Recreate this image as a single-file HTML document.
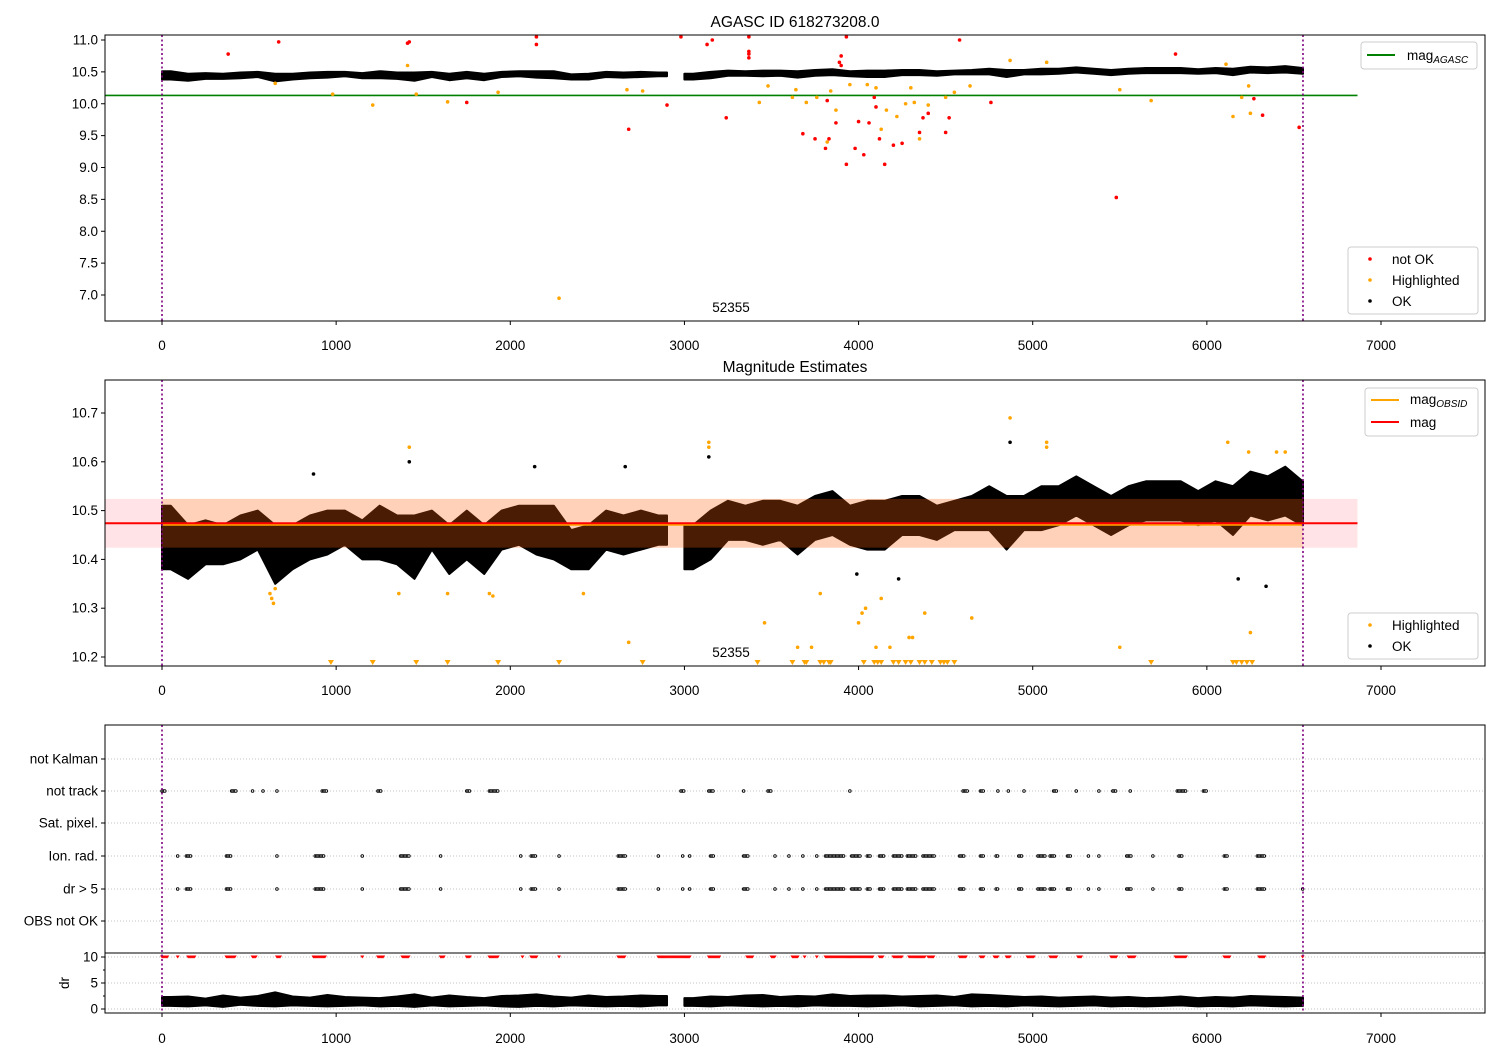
<!DOCTYPE html>
<html><head><meta charset="utf-8"><style>
body{margin:0;background:#fff}
svg{display:block;font-family:"Liberation Sans","DejaVu Sans",sans-serif}
</style></head><body>
<svg id="chart" width="1500" height="1050" viewBox="0 0 1500 1050" xmlns="http://www.w3.org/2000/svg"></svg>
<script>
// ---- data ----
const binStarts=[0,100,200,300,400,500,600,700,800,900,1000,1100,1200,1300,1400,1500,1600,1700,1800,1900,2000,2100,2200,2300,2400,2500,2600,2700,2800,2900,3000,3100,3200,3300,3400,3500,3600,3700,3800,3900,4000,4100,4200,4300,4400,4500,4600,4700,4800,4900,5000,5100,5200,5300,5400,5500,5600,5700,5800,5900,6000,6100,6200,6300,6400,6500];
const magLo=[10.38,10.36,10.39,10.39,10.40,10.42,10.35,10.38,10.40,10.41,10.43,10.40,10.40,10.39,10.36,10.42,10.37,10.40,10.37,10.42,10.43,10.41,10.40,10.38,10.38,10.42,10.41,10.42,10.43,null,10.38,10.40,10.44,10.44,10.43,10.44,10.41,10.44,10.45,10.43,10.42,10.42,10.45,10.45,10.44,10.46,10.46,10.46,10.42,10.46,10.46,10.47,10.49,10.47,10.45,10.47,10.48,10.48,10.48,10.47,10.48,10.45,10.49,10.48,10.49,10.47];
const magHi=[10.51,10.47,10.48,10.47,10.49,10.50,10.47,10.47,10.49,10.50,10.50,10.48,10.51,10.49,10.49,10.50,10.47,10.50,10.47,10.50,10.51,10.51,10.51,10.46,10.47,10.50,10.49,10.50,10.49,null,10.47,10.50,10.52,10.51,10.52,10.52,10.51,10.53,10.54,10.51,10.52,10.52,10.53,10.53,10.51,10.52,10.53,10.55,10.53,10.53,10.55,10.55,10.57,10.55,10.53,10.55,10.56,10.56,10.56,10.54,10.56,10.55,10.58,10.57,10.59,10.56];
const drLo=[0.6,0.5,0.7,0.4,0.8,0.6,0.5,0.7,0.6,0.5,0.6,0.7,0.5,0.6,0.4,0.7,0.5,0.6,0.7,0.5,0.4,0.6,0.5,0.7,0.6,0.5,0.6,0.5,0.7,null,0.6,0.5,0.7,0.6,0.5,0.6,0.5,0.7,0.6,0.6,0.5,0.6,0.7,0.5,0.6,0.7,0.5,0.6,0.5,0.7,0.6,0.5,0.6,0.7,0.5,0.6,0.5,0.6,0.7,0.5,0.6,0.5,0.7,0.6,0.5,0.6];
const drHi=[2.3,2.4,2.0,2.6,2.2,2.5,3.2,2.4,2.2,2.7,2.3,2.2,2.1,2.4,2.8,2.2,2.6,2.3,2.1,2.5,2.6,2.8,2.4,2.2,2.6,2.3,2.4,2.6,2.5,null,2.1,2.4,2.3,2.6,2.7,2.3,2.5,2.4,2.8,2.5,2.6,2.6,2.4,2.5,2.6,2.3,2.8,2.7,2.5,2.3,2.4,2.2,2.3,2.4,2.2,2.3,2.1,2.2,2.4,2.1,2.3,2.2,2.5,2.4,2.3,2.2];
const topRedT=[380,670,1410,1420,2150,2150,2980,3130,3160,3370,3370,3370,3370,3900,3890,3900,3680,3750,3810,3830,3870,3930,3980,4000,4030,4060,4100,4120,4150,4200,4250,4350,4400,4500,4580,4760,4370,2680,2900,3240,1750,3820,5480,5820,6320,6270,6530,3930,4520,4090];
const topRedM=[10.78,10.97,10.95,10.97,11.05,10.93,11.05,10.93,11.0,11.05,10.82,10.78,10.72,10.75,10.65,10.6,9.53,9.45,9.3,9.45,9.7,9.05,9.3,9.72,9.2,9.7,9.95,9.45,9.05,9.35,9.38,9.55,9.85,9.55,11.0,10.02,9.78,9.6,9.98,9.78,10.02,10.05,8.53,10.78,9.82,10.08,9.63,11.05,9.78,10.1];
const topOrT=[650,980,1210,1460,1640,1930,2280,2670,2760,3430,3620,3640,3700,3760,3820,3840,3870,3950,4050,4100,4130,4160,4220,4270,4300,4320,4350,4400,4500,4550,4640,4870,5080,5500,5680,6110,6150,6200,6240,6250,3480,1410];
const topOrM=[10.32,10.15,9.98,10.15,10.03,10.18,6.95,10.22,10.2,10.02,10.1,10.22,10.02,10.1,9.4,10.2,9.9,10.3,10.3,10.25,9.6,9.9,9.8,10.0,10.25,10.02,9.45,9.98,10.1,10.18,10.28,10.68,10.65,10.22,10.05,10.62,9.8,10.1,10.28,9.85,10.28,10.6];
const midOrT=[620,630,640,650,1360,1420,1640,1880,1900,2420,2680,3140,3140,3460,3650,3730,3780,4000,4020,4040,4100,4130,4180,4290,4310,4380,4650,4870,5080,5080,5500,6120,6240,6250,6400,6450];
const midOrM=[10.33,10.32,10.31,10.34,10.33,10.63,10.33,10.33,10.325,10.33,10.23,10.64,10.63,10.27,10.22,10.22,10.33,10.27,10.29,10.30,10.22,10.32,10.22,10.24,10.24,10.29,10.28,10.69,10.64,10.63,10.22,10.64,10.62,10.25,10.62,10.62];
const midBlkT=[870,1420,2140,2660,3140,4870,6180,6340,3990,4230];
const midBlkM=[10.575,10.6,10.59,10.59,10.61,10.64,10.36,10.345,10.37,10.36];
const lowTriT=[970,1210,1460,1640,1930,2280,2760,3420,3620,3690,3700,3780,3800,3830,3840,4030,4090,4110,4130,4200,4230,4270,4300,4350,4380,4420,4470,4490,4510,4550,5680,6150,6170,6200,6230,6260];
const flagRows=["not Kalman","not track","Sat. pixel.","Ion. rad.","dr > 5","OBS not OK"];
const notTrack=[[0,20],[400,430],[520,525],[580,585],[660,665],[920,950],[1240,1260],[1750,1770],[1880,1930],[2980,3000],[3140,3170],[3340,3345],[3480,3500],[3950,3955],[4600,4630],[4700,4720],[4800,4805],[4860,4865],[4950,4955],[5120,5140],[5250,5255],[5380,5385],[5460,5480],[5560,5565],[5830,5880],[5980,6000]];
const ionRad=[[90,95],[140,170],[370,400],[660,665],[880,930],[1150,1155],[1370,1420],[1600,1605],[2060,2065],[2120,2150],[2280,2285],[2620,2660],[2850,2855],[2990,2995],[3030,3035],[3150,3170],[3340,3370],[3520,3525],[3600,3605],[3680,3685],[3760,3765],[3810,3920],[3960,4010],[4050,4070],[4120,4150],[4200,4250],[4280,4330],[4370,4440],[4580,4610],[4700,4720],[4790,4800],[4920,4940],[5030,5070],[5100,5130],[5200,5220],[5320,5325],[5380,5385],[5540,5570],[5690,5695],[5840,5860],[6100,6120],[6290,6330]];
const drBig=ionRad.concat([[6550,6552]]);
const drClip=[[0,30],[90,95],[150,190],[370,420],[520,540],[660,680],[870,940],[1150,1155],[1240,1270],[1380,1420],[1600,1620],[1750,1770],[1880,1930],[2070,2075],[2120,2150],[2280,2285],[2620,2660],[2850,3030],[3140,3200],[3360,3390],[3500,3520],[3620,3650],[3690,3695],[3760,3765],[3810,4080],[4120,4140],[4200,4250],[4290,4380],[4400,4430],[4580,4620],[4700,4720],[4780,4800],[4850,4870],[4970,5010],[5100,5140],[5260,5280],[5450,5480],[5550,5590],[5820,5880],[6100,6130],[6300,6330],[6550,6552]];
const xTicks=[0,1000,2000,3000,4000,5000,6000,7000];
const y1Ticks=[7.0,7.5,8.0,8.5,9.0,9.5,10.0,10.5,11.0];
const y2Ticks=[10.2,10.3,10.4,10.5,10.6,10.7];
const drTicks=[0,5,10];
const magAgasc=10.13, magObsid=10.471, magMean=10.474, magErr=0.05, obsEnd=6552, lineEnd=6865;

// ---- scales ----
const X=t=>162+t*0.174143;
const Y1=v=>40+(11-v)*63.75;
const Y2=v=>413+(10.7-v)*488;
const YD=v=>1009-v*5.2;
const rowY=[759,791,823,856,889,921];
const svg=document.getElementById('chart');
const NS='http://www.w3.org/2000/svg';
function mk(tag,attrs,parent){const e=document.createElementNS(NS,tag);for(const k in attrs)e.setAttribute(k,attrs[k]);(parent||svg).appendChild(e);return e;}
function grp(name){const g=mk('g',{});return g;}
function clipRect(id,x,y,w,h){const c=mk('clipPath',{id});mk('rect',{x,y,width:w,height:h},c);}
clipRect('c1',105,35,1380,286);clipRect('c2',105,380,1380,286);clipRect('c3',105,953,1380,60);

// smooth envelope areas split at gaps
function envelope(lo,hi,Y,parent,name){
 let seg=[];const segs=[];
 binStarts.forEach((t,i)=>{if(lo[i]==null){if(seg.length)segs.push(seg);seg=[];return;}
  seg.push([Math.min(t+50,obsEnd),lo[i],hi[i],t]);});
 if(seg.length)segs.push(seg);
 segs.forEach(s=>{
  const pts=s.map(p=>[p[0],p[1],p[2]]);
  pts.unshift([s[0][3],s[0][1],s[0][2]]);
  const lastT=Math.min(s[s.length-1][3]+100,obsEnd);
  pts.push([lastT,s[s.length-1][1],s[s.length-1][2]]);
  let d='M'+pts.map(p=>X(p[0]).toFixed(1)+','+Y(p[2]).toFixed(1)).join('L');
  d+='L'+pts.slice().reverse().map(p=>X(p[0]).toFixed(1)+','+Y(p[1]).toFixed(1)).join('L')+'Z';
  const e=mk('path',{d,fill:'#000',stroke:'#000','stroke-width':2,'stroke-linejoin':'round'},parent);
  
 });
}

// ---- panel 1 ----
const p1=grp('panel-agasc');p1.setAttribute('clip-path','url(#c1)');
let e;
e=mk('line',{x1:105,x2:X(lineEnd),y1:Y1(magAgasc),y2:Y1(magAgasc),stroke:'#008000','stroke-width':1.6},p1);

envelope(magLo,magHi,Y1,p1,'ok-points-cloud');
topOrT.forEach((t,i)=>{const c=mk('circle',{cx:X(t),cy:Y1(topOrM[i]),r:1.8,fill:'#ffa500'},p1);
 });
topRedT.forEach((t,i)=>{const c=mk('circle',{cx:X(t),cy:Y1(topRedM[i]),r:1.8,fill:'#ff0000'},p1);
 });

// ---- panel 2 ----
const p2=grp('panel-magnitude-estimates');p2.setAttribute('clip-path','url(#c2)');
envelope(magLo,magHi,Y2,p2,'ok-points-cloud');
midBlkT.forEach((t,i)=>{const c=mk('circle',{cx:X(t),cy:Y2(midBlkM[i]),r:1.8,fill:'#000'},p2);
 });
midOrT.forEach((t,i)=>{const c=mk('circle',{cx:X(t),cy:Y2(midOrM[i]),r:1.8,fill:'#ffa500'},p2);
 });
lowTriT.forEach(t=>{const x=X(t);const p=mk('polygon',{points:`${x-3},660 ${x+3},660 ${x},665`,fill:'#ffa500'},p2);
 });
e=mk('rect',{x:105,width:X(lineEnd)-105,y:Y2(magMean+magErr),height:Y2(magMean-magErr)-Y2(magMean+magErr),fill:'rgba(255,0,40,0.11)'},p2);

e=mk('rect',{x:X(0),width:X(obsEnd)-X(0),y:Y2(magMean+magErr),height:Y2(magMean-magErr)-Y2(magMean+magErr),fill:'rgba(255,140,0,0.2)'},p2);

e=mk('line',{x1:X(0),x2:X(obsEnd),y1:Y2(magObsid),y2:Y2(magObsid),stroke:'#ffa500','stroke-width':2},p2);

e=mk('line',{x1:105,x2:X(lineEnd),y1:Y2(magMean),y2:Y2(magMean),stroke:'#ff0000','stroke-width':2},p2);


// ---- panel 3 flags ----
const p3=grp('panel-flags');
rowY.forEach(y=>mk('line',{x1:105,x2:1485,y1:y,y2:y,stroke:'#b0b0b0','stroke-width':0.8,'stroke-dasharray':'1,2'},p3));
function flagDots(ranges,y,name){ranges.forEach(([a,b])=>{for(let t=a;t<=b;t+=8){const c=mk('circle',{cx:X(t),cy:y,r:1.3,fill:'#fff',stroke:'#000','stroke-width':0.9},p3);
 }});}
flagDots(notTrack,rowY[1],'not-track-flag');
flagDots(ionRad,rowY[3],'ion-rad-flag');
flagDots(drBig,rowY[4],'dr-gt-5-flag');

// ---- dr panel ----
const pd=grp('panel-dr');pd.setAttribute('clip-path','url(#c3)');
[0,5,10].forEach(v=>mk('line',{x1:105,x2:1485,y1:YD(v),y2:YD(v),stroke:'#b0b0b0','stroke-width':0.8,'stroke-dasharray':'1,2'},pd));
envelope(drLo,drHi,YD,pd,'dr-points-cloud');
drClip.forEach(([a,b])=>{for(let t=a;t<=b;t+=6){const p=mk('path',{d:`M${X(t)-2},${YD(10)-1.5}h4l-2,3z`,fill:'#ff0000'},pd);
 }});

// ---- common: vertical obs lines, axes frames, ticks ----
const axes=[{y0:35,y1:321,lab:337},{y0:380,y1:666,lab:682},{y0:725,y1:1013,lab:1030}];
axes.forEach((a,k)=>{
 [0,obsEnd].forEach(t=>{const l=mk('line',{x1:X(t),x2:X(t),y1:a.y0,y2:a.y1,stroke:'#800080','stroke-width':1.6,'stroke-dasharray':'2,2.5'});
  });
 const f=mk('rect',{x:105,y:a.y0,width:1380,height:a.y1-a.y0,fill:'none',stroke:'#000','stroke-width':1});
 
 xTicks.forEach(t=>{mk('line',{x1:X(t),x2:X(t),y1:a.y1,y2:a.y1+4,stroke:'#000'});
  const tx=mk('text',{x:X(t),y:a.lab+13,'font-size':13.5,'text-anchor':'middle'});tx.textContent=t;
  });
});
mk('line',{x1:105,x2:1485,y1:953,y2:953,stroke:'#000','stroke-width':1});
function yTick(y,label,name){mk('line',{x1:101,x2:105,y1:y,y2:y,stroke:'#000'});
 const t=mk('text',{x:98,y:y+4.5,'font-size':13.5,'text-anchor':'end'});t.textContent=label;
 }
y1Ticks.forEach(v=>yTick(Y1(v),v.toFixed(1),'y-tick-label'));
y2Ticks.forEach(v=>yTick(Y2(v),v.toFixed(1),'y-tick-label'));
flagRows.forEach((s,i)=>yTick(rowY[i],s,'flag-row-label'));
drTicks.forEach(v=>yTick(YD(v),v,'dr-tick-label'));
[2.5,7.5].forEach(v=>mk('line',{x1:103,x2:105,y1:YD(v),y2:YD(v),stroke:'#000'}));
e=mk('text',{x:0,y:0,'font-size':13.5,'text-anchor':'middle',transform:`translate(69,${YD(5)}) rotate(-90)`});e.textContent='dr';


function txt(x,y,s,size,name,anchor){const t=mk('text',{x,y,'font-size':size,'text-anchor':anchor||'middle'});t.textContent=s;
 return t;}
txt(795,27,'AGASC ID 618273208.0',15.5,'chart-title');
txt(795,372,'Magnitude Estimates',15.5,'panel-title');
txt(731,312,'52355',13.5,'obsid-label');
txt(731,657,'52355',13.5,'obsid-label');

// ---- legends ----
function legendBox(x,y,w,h,name){const r=mk('rect',{x,y,width:w,height:h,rx:3,fill:'#fff','fill-opacity':0.8,stroke:'#ccc'});
 }
legendBox(1361,42,116,27,'legend-agasc');
mk('line',{x1:1367,x2:1395,y1:55,y2:55,stroke:'#008000','stroke-width':2});
e=mk('text',{x:1407,y:60,'font-size':13.5});e.innerHTML='mag<tspan font-size="10" font-style="italic" dy="3">AGASC</tspan>';

legendBox(1348,247,130,67,'legend-points-top');
[['not OK','#ff0000',259],['Highlighted','#ffa500',280],['OK','#000',301]].forEach(([s,c,y])=>{
 mk('circle',{cx:1370,cy:y,r:1.8,fill:c});txt(1392,y+5,s,13.5,'legend-entry','start');});
legendBox(1365,388,113,48,'legend-lines-mid');
mk('line',{x1:1371,x2:1399,y1:400,y2:400,stroke:'#ffa500','stroke-width':2});
e=mk('text',{x:1410,y:404,'font-size':13.5});e.innerHTML='mag<tspan font-size="10" font-style="italic" dy="3">OBSID</tspan>';

mk('line',{x1:1371,x2:1399,y1:422,y2:422,stroke:'#ff0000','stroke-width':2});
txt(1410,427,'mag',13.5,'legend-entry-mag','start');
legendBox(1348,613,130,46,'legend-points-mid');
[['Highlighted','#ffa500',625],['OK','#000',646]].forEach(([s,c,y])=>{
 mk('circle',{cx:1370,cy:y,r:1.8,fill:c});txt(1392,y+5,s,13.5,'legend-entry','start');});
</script>
</body></html>
